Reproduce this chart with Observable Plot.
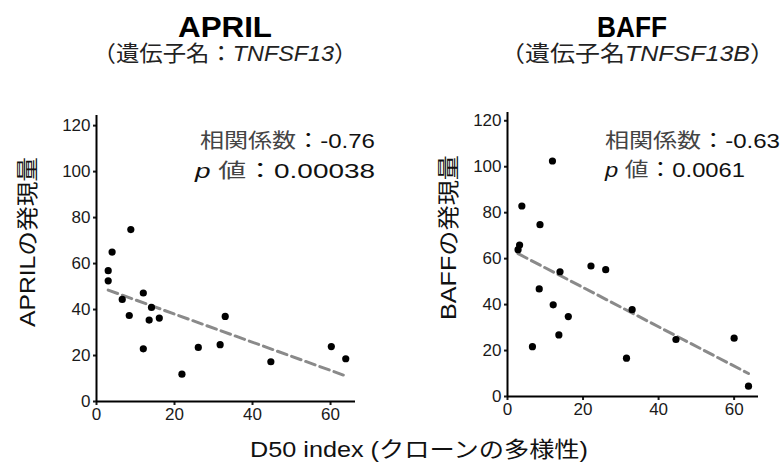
<!DOCTYPE html>
<html>
<head>
<meta charset="utf-8">
<script src="https://cdn.jsdelivr.net/npm/d3@7"></script>
<script src="https://cdn.jsdelivr.net/npm/@observablehq/plot@0.6"></script>
<style>
  html, body { margin: 0; padding: 0; background: #fff; }
  #fig { position: relative; width: 783px; height: 466px; background: #fff; overflow: hidden; }
  #fig > svg, #fig > figure { position: absolute; top: 0; margin: 0; }
  #overlay { left: 0; pointer-events: none; }
</style>
</head>
<body>
<div id="fig"></div>
<script>
// ---- data ----
const aprilD50  = [3.0, 3.0, 4.0, 8.8, 6.6, 8.4, 12.0, 14.1, 13.5, 16.1, 12.0, 21.9, 26.1, 31.7, 33.0, 44.7, 60.2, 63.9];
const aprilExpr = [56.9, 52.5, 65.0, 74.8, 44.4, 37.4, 47.2, 40.9, 35.4, 36.3, 22.9, 11.9, 23.5, 24.7, 37.0, 17.3, 23.9, 18.6];
const baffD50   = [2.8, 3.2, 3.8, 11.9, 8.6, 8.4, 6.6, 12.1, 13.9, 16.1, 13.6, 22.1, 26.0, 31.5, 33.0, 44.6, 60.0, 63.8];
const baffExpr  = [63.9, 65.9, 82.9, 102.5, 74.8, 46.8, 21.7, 39.9, 54.3, 34.8, 26.8, 56.8, 55.2, 16.7, 37.8, 24.8, 25.4, 4.5];
const xTicks = [0, 20, 40, 60];
const yTicks = [0, 20, 40, 60, 80, 100, 120];

const panelTitles = ["APRIL", "BAFF"];
const geneNames = ["TNFSF13", "TNFSF13B"];
const yLabels = ["APRILの発現量", "BAFFの発現量"];
const xLabel = "D50 index (クローンの多様性)";
const corrValues = ["-0.76", "-0.63"];
const pValues = ["0.00038", "0.0061"];

const FONT = "'Liberation Sans', Arial, 'Noto Sans CJK JP', sans-serif";
const fig = document.getElementById("fig");

function panel(d50, expr, o) {
  const data = d50.map((x, i) => ({x, y: expr[i]}));
  return Plot.plot({
    width: o.width, height: 466,
    marginLeft: o.ml, marginRight: o.mr, marginTop: o.mt, marginBottom: o.mb,
    x: {domain: [0, o.xMax]},
    y: {domain: [0, o.yMax]},
    style: {fontFamily: FONT, fontSize: "17px", color: "#1a1a1a", background: "transparent", overflow: "visible"},
    marks: [
      Plot.axisX({ticks: xTicks, tickSize: 4, tickPadding: 2, strokeWidth: 2, label: null, fontSize: 17}),
      Plot.axisY({ticks: yTicks, tickSize: 3, tickPadding: 3, strokeWidth: 2, label: null, fontSize: 17}),
      Plot.ruleX([0], {stroke: "#000", strokeWidth: 2}),
      Plot.ruleY([0], {stroke: "#000", strokeWidth: 2}),
      Plot.linearRegressionY(data, {x: "x", y: "y", ci: 0, stroke: "#8a8a8a", strokeWidth: 3, strokeDasharray: "10,5"}),
      Plot.dot(data, {x: "x", y: "y", r: 3.6, fill: "#000", stroke: null})
    ]
  });
}

const left = panel(aprilD50, aprilExpr, {width: 360, ml: 96, mr: 5, mt: 115, mb: 65, xMax: 66.4, yMax: 124.4});
left.style.left = "0px";
fig.appendChild(left);
const right = panel(baffD50, baffExpr, {width: 393, ml: 117, mr: 25, mt: 112, mb: 70, xMax: 66.45, yMax: 123.6});
right.style.left = "390px";
fig.appendChild(right);

// ---- text overlay ----
const svg = d3.select(fig).append("svg").attr("id", "overlay")
  .attr("width", 783).attr("height", 466)
  .style("font-family", FONT);

function txt(x, y, parts, o = {}) {
  const t = svg.append("text")
    .attr("x", o.rotate ? 0 : x).attr("y", o.rotate ? 0 : y)
    .attr("text-anchor", o.anchor || "start")
    .attr("font-size", o.size)
    .attr("font-weight", o.weight || "normal")
    .attr("fill", o.fill || "#111");
  if (o.rotate) t.attr("transform", `translate(${x},${y}) rotate(${o.rotate})`).attr("dominant-baseline", "central");
  if (o.length) t.attr("textLength", o.length).attr("lengthAdjust", "spacingAndGlyphs");
  for (const [s, st] of parts) {
    const sp = t.append("tspan").text(s);
    if (st && st.italic) sp.attr("font-style", "italic");
    if (st && st.fill) sp.attr("fill", st.fill);
  }
  return t;
}

// titles
txt(225, 37, [[panelTitles[0]]], {anchor: "middle", size: 30, weight: "bold", fill: "#000", length: 94});
txt(225, 61, [["（遺伝子名："], [geneNames[0], {italic: true}], ["）"]], {anchor: "middle", size: 22, fill: "#222", length: 265});
txt(632, 37, [[panelTitles[1]]], {anchor: "middle", size: 30, weight: "bold", fill: "#000", length: 70});
txt(637.5, 61, [["（遺伝子名"], [geneNames[1], {italic: true}], ["）"]], {anchor: "middle", size: 22, fill: "#222", length: 275});

// annotations
txt(200, 148, [["相関係数", {fill: "#444"}], ["："], [corrValues[0]]], {size: 20, length: 175});
txt(195, 178, [["p", {italic: true}], [" "], ["値", {fill: "#444"}], ["："], [pValues[0]]], {size: 20, length: 180});
txt(605, 148, [["相関係数", {fill: "#444"}], ["："], [corrValues[1]]], {size: 20, length: 175});
txt(605, 177, [["p", {italic: true}], [" "], ["値", {fill: "#444"}], ["："], [pValues[1]]], {size: 20, length: 140});

// axis titles
txt(27, 242, [[yLabels[0]]], {anchor: "middle", size: 22, rotate: -90, length: 170});
txt(448, 237.5, [[yLabels[1]]], {anchor: "middle", size: 22, rotate: -90, length: 165});
txt(419, 457, [[xLabel]], {anchor: "middle", size: 22, length: 338});
</script>
</body>
</html>
